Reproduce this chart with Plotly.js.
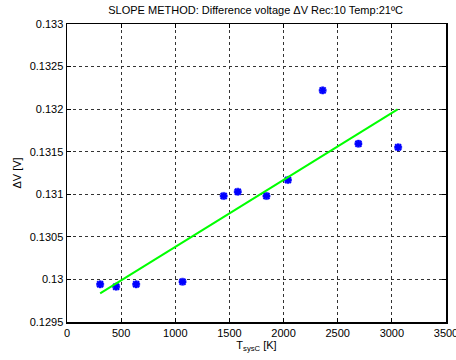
<!DOCTYPE html>
<html>
<head>
<meta charset="utf-8">
<script src="https://cdn.plot.ly/plotly-3.0.1.min.js"></script>
<style>html,body{margin:0;padding:0;background:#fff;}#chart{width:456px;height:360px;}</style>
</head>
<body>
<div id="chart"></div>
<script>
// Measured points
const tsys = [306, 454, 639, 1067, 1447, 1577, 1842, 2040, 2361, 2691, 3058];
const deltaV = [0.129943, 0.129915, 0.129943, 0.129973, 0.13098, 0.13103, 0.13098, 0.131168, 0.13222, 0.131594, 0.131552];
// Linear fit line endpoints
const fitX = [306, 3053];
const fitY = [0.129837, 0.131998];
// Tick labels
const xTicks = [0, 500, 1000, 1500, 2000, 2500, 3000, 3500];
const yTicks = [0.1295, 0.13, 0.1305, 0.131, 0.1315, 0.132, 0.1325, 0.133];
const yTickText = ['0.1295', '0.13', '0.1305', '0.131', '0.1315', '0.132', '0.1325', '0.133'];

const font = 'Liberation Sans, Arial, sans-serif';
const traces = [
  {x: tsys, y: deltaV, mode: 'markers', type: 'scatter',
   marker: {symbol: 'cross', size: 6, color: '#0000ff', line: {color: '#0000ff', width: 0.5}}},
  {x: tsys, y: deltaV, mode: 'markers', type: 'scatter',
   marker: {symbol: 'x-thin-open', size: 6, color: '#0000ff', line: {color: '#0000ff', width: 2}}},
  {x: fitX, y: fitY, mode: 'lines', type: 'scatter', line: {color: '#00ff00', width: 2}}
];
const axisCommon = {
  showline: true, mirror: 'ticks', linecolor: '#000', linewidth: 1.5,
  ticks: 'inside', ticklen: 4, tickcolor: '#000',
  showgrid: true, gridcolor: '#333', griddash: '3px,3px', gridwidth: 1,
  zeroline: false, tickfont: {family: font, size: 11, color: '#000'},
  ticklabeloverflow: 'allow'
};
const layout = {
  width: 456, height: 360,
  margin: {l: 67, r: 10, t: 24, b: 38},
  paper_bgcolor: '#fff', plot_bgcolor: '#fff',
  showlegend: false,
  title: {text: 'SLOPE METHOD: Difference voltage ΔV Rec:10 Temp:21ºC', font: {family: font, size: 11, color: '#000'},
          x: 0.5605, xanchor: 'center', y: 0.972, yanchor: 'middle'},
  xaxis: Object.assign({}, axisCommon, {range: [0, 3500], tickvals: xTicks,
    title: {text: 'T<sub>sysC</sub> [K]', font: {family: font, size: 11, color: '#000'}, standoff: 1}}),
  yaxis: Object.assign({}, axisCommon, {range: [0.1295, 0.133], tickvals: yTicks, ticktext: yTickText,
    title: {text: 'ΔV [V]', font: {family: font, size: 11, color: '#000'}, standoff: 6}})
};
Plotly.newPlot('chart', traces, layout, {displayModeBar: false, staticPlot: true});
</script>
</body>
</html>
